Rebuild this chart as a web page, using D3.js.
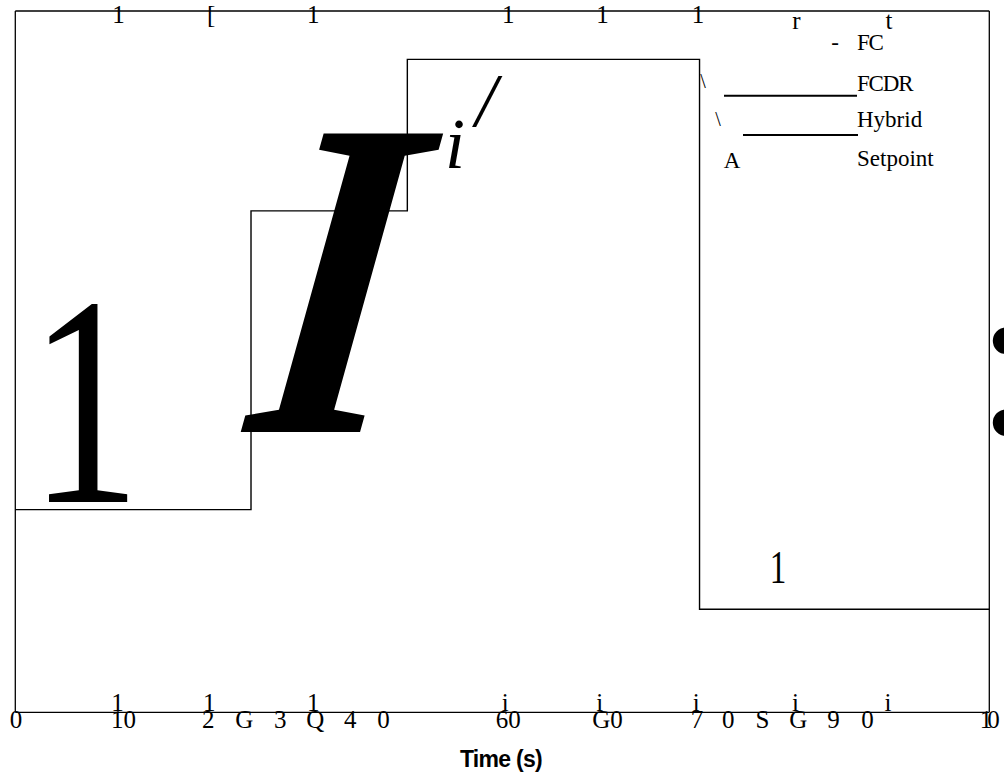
<!DOCTYPE html>
<html>
<head>
<meta charset="utf-8">
<script src="https://cdn.jsdelivr.net/npm/d3@7"></script>
<style>
  html, body { margin: 0; padding: 0; background: #fff; }
  svg { display: block; }
  .serif { font-family: "Liberation Serif", "Times New Roman", serif; fill: #000; }
</style>
</head>
<body>
<svg id="chart" width="1004" height="779"></svg>
<script>
// Setpoint profile (time in s, level in % of range)
const stepTimes  = [0, 24.2, 40.25, 70.25, 100];
const stepLevels = [28.9, 71.5, 93.1, 14.7, 14.7];

// Axis label glyphs along the time axis
const bottomLabelText = ["0", "10", "2", "G", "3", "Q", "4", "0", "60", "G0", "7", "0", "S", "G", "9", "0", "10"];
const bottomLabelAt   = [0.07, 11.1, 19.8, 23.5, 27.2, 30.8, 34.4, 37.8, 50.6, 60.8, 70.0, 73.2, 76.7, 80.4, 84.0, 87.5, 99.8];

// Tick glyphs above the bottom axis
const bottomTickText = ["1", "1", "1", "i", "i", "i", "i", "i"];
const bottomTickAt   = [10.5, 19.9, 30.6, 50.3, 60.0, 69.9, 80.1, 89.6];

// Tick glyphs on the top border
const topTickText = ["1", "[", "1", "1", "1", "1", "r", "t"];
const topTickAt   = [10.6, 20.1, 30.6, 50.6, 60.3, 70.1, 80.2, 89.7];

// Legend entries
const legendNames = ["FC", "FCDR", "Hybrid", "Setpoint"];

const svg = d3.select("#chart");

const x = d3.scaleLinear().domain([0, 100]).range([15.3, 989.3]);
const y = d3.scaleLinear().domain([0, 100]).range([712.3, 11]);

const [x0, x1] = x.range();
const [yb, yt] = y.range();

// plot frame
const frame = svg.append("g").attr("stroke", "#000").attr("stroke-width", 1.3).attr("fill", "none");
frame.append("line").attr("x1", x0).attr("x2", x1).attr("y1", yt).attr("y2", yt);
frame.append("line").attr("x1", x1).attr("x2", x1).attr("y1", yt).attr("y2", yb);
frame.append("line").attr("x1", x0).attr("x2", x0).attr("y1", yt).attr("y2", yb);
frame.append("line").attr("x1", x0).attr("x2", x1).attr("y1", yb).attr("y2", yb);

// setpoint step trace
const stepLine = d3.line()
  .x((d, i) => x(stepTimes[i]))
  .y(d => y(d))
  .curve(d3.curveStepAfter);

svg.append("path")
  .datum(stepLevels)
  .attr("d", stepLine)
  .attr("fill", "none")
  .attr("stroke", "#000")
  .attr("stroke-width", 1.4);

// top border glyphs
svg.append("g").selectAll("text")
  .data(topTickText)
  .join("text")
  .attr("class", "serif")
  .attr("x", (d, i) => x(topTickAt[i]))
  .attr("y", d => (d === "r" || d === "t") ? 28.5 : 22.5)
  .attr("text-anchor", "middle")
  .attr("font-size", 25)
  .text(d => d);

// bottom tick glyphs
svg.append("g").selectAll("text")
  .data(bottomTickText)
  .join("text")
  .attr("class", "serif")
  .attr("x", (d, i) => x(bottomTickAt[i]))
  .attr("y", 711)
  .attr("text-anchor", "middle")
  .attr("font-size", 25)
  .text(d => d);

// bottom axis labels
svg.append("g").selectAll("text")
  .data(bottomLabelText)
  .join("text")
  .attr("class", "serif")
  .attr("x", (d, i) => x(bottomLabelAt[i]))
  .attr("y", 728)
  .attr("text-anchor", "middle")
  .attr("font-size", 25)
  .attr("letter-spacing", (d, i) => i === bottomLabelText.length - 1 ? -5 : 0)
  .text(d => d);

// axis title
svg.append("text")
  .attr("x", 501)
  .attr("y", 767)
  .attr("text-anchor", "middle")
  .attr("font-family", "Liberation Sans, Arial, sans-serif")
  .attr("font-weight", "bold")
  .attr("font-size", 23)
  .attr("letter-spacing", -0.7)
  .text("Time (s)");

// legend
const legend = svg.append("g");
const legendBase = [50, 91, 127, 166];
legend.selectAll("text.name")
  .data(legendNames)
  .join("text")
  .attr("class", "serif name")
  .attr("x", 857)
  .attr("y", (d, i) => legendBase[i])
  .attr("font-size", 23)
  .attr("letter-spacing", (d, i) => i < 2 ? -1.2 : 0)
  .text(d => d);

legend.append("text").attr("class", "serif").attr("x", 835).attr("y", 50)
  .attr("text-anchor", "middle").attr("font-size", 23).text("-");
legend.append("text").attr("class", "serif").attr("x", 703).attr("y", 88)
  .attr("text-anchor", "middle").attr("font-size", 20).attr("fill", "#444").text("\\");
legend.append("text").attr("class", "serif").attr("x", 718).attr("y", 126)
  .attr("text-anchor", "middle").attr("font-size", 20).attr("fill", "#444").text("\\");
legend.append("text").attr("class", "serif").attr("x", 732).attr("y", 168)
  .attr("text-anchor", "middle").attr("font-size", 23).text("A");

legend.append("line").attr("x1", 724).attr("x2", 857).attr("y1", 95.7).attr("y2", 95.7)
  .attr("stroke", "#000").attr("stroke-width", 2);
legend.append("line").attr("x1", 743).attr("x2", 858).attr("y1", 135).attr("y2", 135)
  .attr("stroke", "#000").attr("stroke-width", 2);

// large glyphs drawn across the plot
const glyphs = svg.append("g");
glyphs.append("text").attr("class", "serif")
  .attr("transform", "translate(85,502) scale(0.74,1)")
  .attr("text-anchor", "middle").attr("font-size", 300).text("1");
glyphs.append("text").attr("class", "serif")
  .attr("transform", "translate(319,432) skewX(-7.4) scale(0.84,1)")
  .attr("text-anchor", "middle").attr("font-size", 456)
  .attr("font-style", "italic").attr("font-weight", "bold").text("I");
glyphs.append("text").attr("class", "serif")
  .attr("x", 455).attr("y", 168)
  .attr("text-anchor", "middle").attr("font-size", 72)
  .attr("font-style", "italic").text("i");
glyphs.append("text").attr("class", "serif")
  .attr("x", 486).attr("y", 126)
  .attr("text-anchor", "middle").attr("font-size", 76)
  .attr("font-style", "italic").text("/");
glyphs.append("text").attr("class", "serif")
  .attr("transform", "translate(778,583) scale(0.72,1)")
  .attr("text-anchor", "middle").attr("font-size", 46).text("1");
glyphs.append("text").attr("class", "serif")
  .attr("x", 975).attr("y", 433)
  .attr("text-anchor", "start").attr("font-size", 225).text(":");
</script>
</body>
</html>
